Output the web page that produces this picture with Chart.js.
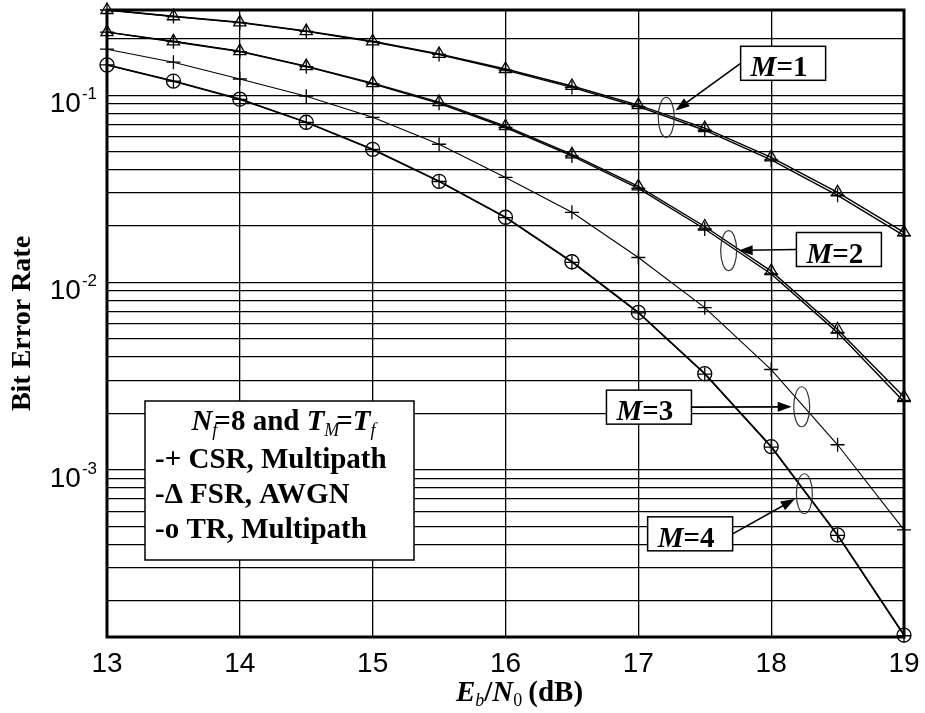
<!DOCTYPE html>
<html>
<head>
<meta charset="utf-8">
<script src="https://cdn.jsdelivr.net/npm/chart.js@4.4.1/dist/chart.umd.min.js"></script>
<style>
  html, body { margin: 0; padding: 0; background: #fff; }
  #wrap { width: 925px; height: 713px; }
</style>
</head>
<body>
<div id="wrap"><canvas id="ber"></canvas></div>
<script>
// Eb/N0 (dB)
const snr = [13, 13.5, 14, 14.5, 15, 15.5, 16, 16.5, 17, 17.5, 18, 18.5, 19];

// BER curves
const m1Fsr = [0.285, 0.264, 0.245, 0.220, 0.194, 0.166, 0.138, 0.112, 0.0885, 0.0667, 0.0466, 0.0303, 0.0185];
const m1Csr = [0.285, 0.263, 0.244, 0.219, 0.193, 0.165, 0.136, 0.110, 0.0868, 0.0650, 0.0452, 0.0292, 0.0178];
const m2Fsr = [0.217, 0.194, 0.172, 0.143, 0.116, 0.0918, 0.0683, 0.0483, 0.0326, 0.0199, 0.0115, 0.00561, 0.00245];
const m2Csr = [0.217, 0.193, 0.171, 0.142, 0.115, 0.0905, 0.0672, 0.0474, 0.0318, 0.0193, 0.0111, 0.0054, 0.00231];
const m3Csr = [0.176, 0.150, 0.122, 0.0988, 0.0762, 0.0547, 0.0364, 0.0237, 0.0136, 0.00734, 0.00343, 0.00136, 0.000478];
const m4Tr  = [0.145, 0.119, 0.0952, 0.0717, 0.0514, 0.0347, 0.0223, 0.0129, 0.00692, 0.00326, 0.00133, 0.000449, 0.000131];
const m4Csr = [0.145, 0.119, 0.0950, 0.0716, 0.0513, 0.0346, 0.0222, 0.0128, 0.00688, 0.00324, 0.00132, 0.000446, 0.000130];

// axis
const yMin = 1.28e-4;
const yMax = 0.285;
const yDecades = [-4, -3, -2, -1];
const yLabelExps = [-1, -2, -3];

// text
const legendTitle = ['N', 'f', '=8 and ', 'T', 'M', '=', 'T', 'f'];
const legendLines = ['-+ CSR, Multipath', '-\u0394 FSR, AWGN', '-o TR, Multipath'];
const notes = [
  { m: '1', ell: [17.21, 0.0762], box: [18.09, 0.148], side: 'left' },
  { m: '2', ell: [17.68, 0.0148], box: [18.51, 0.0150], side: 'left' },
  { m: '3', ell: [18.23, 0.00217], box: [17.08, 0.00216], side: 'right' },
  { m: '4', ell: [18.25, 0.000745], box: [17.39, 0.000455], side: 'right' },
];

const SERIF = '"Liberation Serif", "Times New Roman", serif';
const SANS = '"Liberation Sans", Arial, sans-serif';

const yGrid = [];
yDecades.forEach(e => {
  for (let s = 1; s <= 9; s++) {
    const v = s * Math.pow(10, e);
    if (v > yMin && v < yMax) yGrid.push(v);
  }
});

function series(label, values, style, width) {
  return {
    label,
    data: snr.map((x, i) => ({ x, y: values[i] })),
    borderColor: '#000',
    backgroundColor: 'transparent',
    borderWidth: width,
    pointStyle: style,
    pointRadius: 7,
    pointBorderColor: '#000',
    pointBackgroundColor: 'transparent',
    pointBorderWidth: 1.3,
    tension: 0,
    clip: 12,
  };
}

function drawRich(ctx, parts, x, y, align) {
  let total = 0;
  parts.forEach(p => { ctx.font = p.font; p.w = ctx.measureText(p.text).width; total += p.w + (p.kern || 0); });
  let cx = align === 'center' ? x - total / 2 : (align === 'right' ? x - total : x);
  ctx.textAlign = 'left';
  ctx.textBaseline = 'alphabetic';
  parts.forEach(p => {
    ctx.font = p.font;
    ctx.fillText(p.text, cx, y + (p.dy || 0));
    cx += p.w + (p.kern || 0);
  });
}

const decorations = {
  id: 'decorations',
  afterDatasetsDraw(chart) {
    const { ctx, chartArea: a, scales: { x, y } } = chart;
    ctx.save();
    ctx.fillStyle = '#000';
    ctx.strokeStyle = '#000';

    // y tick labels 10^n
    yLabelExps.forEach(e => {
      const py = y.getPixelForValue(Math.pow(10, e));
      ctx.font = '17px ' + SANS;
      const sup = '-' + Math.abs(e);
      const sw = ctx.measureText(sup).width;
      const right = a.left - 10;
      ctx.textAlign = 'right';
      ctx.textBaseline = 'alphabetic';
      ctx.fillText(sup, right, py + 4);
      ctx.font = '28px ' + SANS;
      ctx.fillText('10', right - sw - 1, py + 17);
    });

    // x axis title
    const big = 'bold 29px ' + SERIF;
    const bigI = 'italic bold 29px ' + SERIF;
    const sub = 'italic 18px ' + SERIF;
    const subR = '18px ' + SERIF;
    drawRich(ctx, [
      { text: 'E', font: bigI },
      { text: 'b', font: sub, dy: 5 },
      { text: '/', font: big },
      { text: 'N', font: bigI },
      { text: '0', font: subR, dy: 5, kern: 6 },
      { text: '(dB)', font: big },
    ], (a.left + a.right) / 2 + 14, 701, 'center');

    // legend box
    const lx = a.left + 38, ly = a.top + 391, lw = 269, lh = 159;
    ctx.fillStyle = '#fff';
    ctx.fillRect(lx, ly, lw, lh);
    ctx.lineWidth = 1.5;
    ctx.strokeRect(lx, ly, lw, lh);
    ctx.fillStyle = '#000';
    const subI = 'italic 18px ' + SERIF;
    drawRich(ctx, [
      { text: legendTitle[0], font: bigI },
      { text: legendTitle[1], font: subI, dy: 6, kern: -3 },
      { text: legendTitle[2], font: big },
      { text: legendTitle[3], font: bigI },
      { text: legendTitle[4], font: subI, dy: 6, kern: -3 },
      { text: legendTitle[5], font: big },
      { text: legendTitle[6], font: bigI },
      { text: legendTitle[7], font: subI, dy: 6 },
    ], lx + lw / 2 + 4, ly + 29, 'center');
    ctx.font = big;
    ctx.textAlign = 'left';
    legendLines.forEach((t, i) => ctx.fillText(t, lx + 10, ly + 67 + i * 35));

    // M=... callouts
    notes.forEach(n => {
      const ex = x.getPixelForValue(n.ell[0]), ey = y.getPixelForValue(n.ell[1]);
      const bx = x.getPixelForValue(n.box[0]), by = y.getPixelForValue(n.box[1]);
      const bw = 85, bh = 34, rx = 8, ry = 20;

      ctx.lineWidth = 1.2;
      ctx.strokeStyle = '#333';
      ctx.beginPath();
      ctx.ellipse(ex, ey, rx, ry, 0, 0, Math.PI * 2);
      ctx.stroke();

      const sx = n.side === 'left' ? bx - bw / 2 : bx + bw / 2;
      const sy = by;
      const dx = sx - ex, dy = sy - ey;
      const t = 1 / Math.sqrt((dx / rx) ** 2 + (dy / ry) ** 2);
      const len = Math.hypot(dx, dy);
      const tx = ex + dx * t + dx / len * 2, ty = ey + dy * t + dy / len * 2;
      const ang = Math.atan2(ty - sy, tx - sx);
      ctx.strokeStyle = '#000';
      ctx.lineWidth = 1.6;
      ctx.beginPath();
      ctx.moveTo(sx, sy);
      ctx.lineTo(tx - Math.cos(ang) * 8, ty - Math.sin(ang) * 8);
      ctx.stroke();
      ctx.beginPath();
      ctx.moveTo(tx, ty);
      ctx.lineTo(tx - Math.cos(ang) * 14 - Math.sin(ang) * 5, ty - Math.sin(ang) * 14 + Math.cos(ang) * 5);
      ctx.lineTo(tx - Math.cos(ang) * 14 + Math.sin(ang) * 5, ty - Math.sin(ang) * 14 - Math.cos(ang) * 5);
      ctx.closePath();
      ctx.fillStyle = '#000';
      ctx.fill();

      ctx.fillStyle = '#fff';
      ctx.fillRect(bx - bw / 2, by - bh / 2, bw, bh);
      ctx.lineWidth = 1.5;
      ctx.strokeRect(bx - bw / 2, by - bh / 2, bw, bh);
      ctx.fillStyle = '#000';
      drawRich(ctx, [
        { text: 'M', font: bigI },
        { text: '=' + n.m, font: big },
      ], bx - bw / 2 + 10, by + 13, 'left');
    });

    // frame
    ctx.lineWidth = 3;
    ctx.strokeStyle = '#000';
    ctx.strokeRect(a.left, a.top, a.right - a.left, a.bottom - a.top);
    ctx.restore();
  }
};

new Chart(document.getElementById('ber'), {
  type: 'line',
  data: {
    datasets: [
      series('M=1 FSR, AWGN', m1Fsr, 'triangle', 1.4),
      series('M=1 CSR, Multipath', m1Csr, 'cross', 1.4),
      series('M=2 FSR, AWGN', m2Fsr, 'triangle', 1.4),
      series('M=2 CSR, Multipath', m2Csr, 'cross', 1.4),
      series('M=3 CSR, Multipath', m3Csr, 'cross', 1.1),
      series('M=4 TR, Multipath', m4Tr, 'circle', 1.8),
      series('M=4 CSR, Multipath', m4Csr, 'cross', 1.0),
    ]
  },
  options: {
    responsive: true,
    maintainAspectRatio: false,
    animation: false,
    layout: { padding: { top: 10, right: 21, left: 0, bottom: 0 } },
    plugins: {
      legend: { display: false },
      tooltip: { enabled: false },
    },
    scales: {
      x: {
        type: 'linear',
        min: 13,
        max: 19,
        ticks: {
          stepSize: 1,
          maxRotation: 0,
          padding: 10,
          color: '#000',
          font: { family: SANS, size: 28 },
        },
        grid: { color: '#000', lineWidth: 1.3, drawTicks: false },
        border: { display: false },
        afterFit: (scale) => {
          scale.height = 76;
          scale.paddingLeft = 0;
          scale.paddingRight = 0;
        },
      },
      y: {
        type: 'logarithmic',
        min: yMin,
        max: yMax,
        ticks: { display: false },
        afterBuildTicks: (scale) => { scale.ticks = yGrid.map(v => ({ value: v })); },
        grid: { color: '#000', lineWidth: 1.3, drawTicks: false },
        border: { display: false },
        title: {
          display: true,
          text: 'Bit Error Rate',
          color: '#000',
          font: { family: SERIF, size: 28, weight: 'bold' },
          padding: { top: 6, bottom: 0 },
        },
        afterFit: (scale) => { scale.width = 107; },
      }
    }
  },
  plugins: [decorations]
});
</script>
</body>
</html>
